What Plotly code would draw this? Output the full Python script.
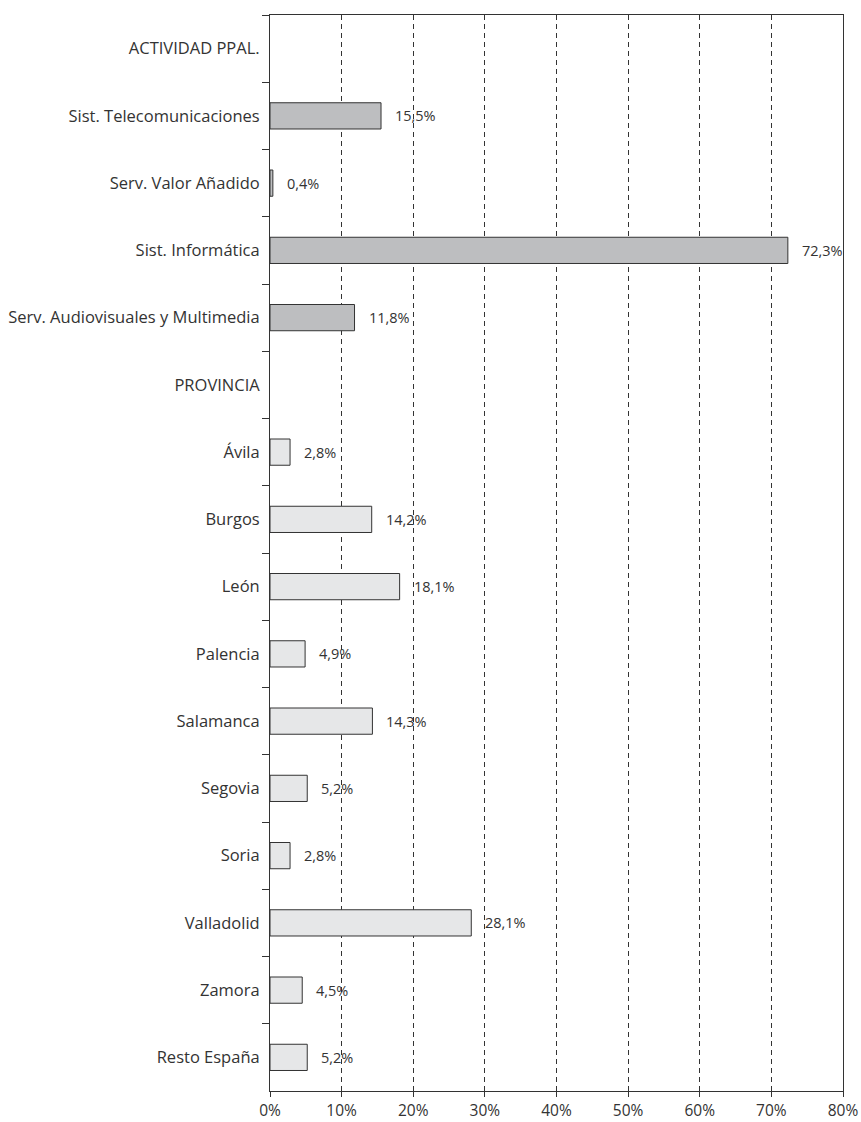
import plotly.graph_objects as go

categories = [
    "ACTIVIDAD PPAL.",
    "Sist. Telecomunicaciones",
    "Serv. Valor Añadido",
    "Sist. Informática",
    "Serv. Audiovisuales y Multimedia",
    "PROVINCIA",
    "Ávila",
    "Burgos",
    "León",
    "Palencia",
    "Salamanca",
    "Segovia",
    "Soria",
    "Valladolid",
    "Zamora",
    "Resto España",
]
values = [None, 15.5, 0.4, 72.3, 11.8, None, 2.8, 14.2, 18.1, 4.9, 14.3, 5.2, 2.8, 28.1, 4.5, 5.2]
groups = ["h", "a", "a", "a", "a", "h", "p", "p", "p", "p", "p", "p", "p", "p", "p", "p"]
group_colors = {"h": "#ffffff", "a": "#bdbec0", "p": "#e6e7e8"}
x_ticks = [0, 10, 20, 30, 40, 50, 60, 70, 80]

colors = [group_colors[g] for g in groups]

fig = go.Figure()
fig.add_trace(go.Bar(
    y=categories,
    x=values,
    orientation="h",
    width=0.39,
    marker=dict(color=colors, line=dict(color="#333333", width=1)),
    hoverinfo="skip",
))

for c, v in zip(categories, values):
    if v is None:
        continue
    fig.add_annotation(
        x=v, y=c, xref="x", yref="y",
        text=f"{v:.1f}%".replace(".", ","),
        showarrow=False, xanchor="left", xshift=12,
        font=dict(size=14.5, color="#333333", family="Open Sans"),
    )

fig.update_layout(
    width=861, height=1122,
    margin=dict(l=270, r=18, t=15, b=31, autoexpand=False),
    plot_bgcolor="white", paper_bgcolor="white",
    showlegend=False,
    font=dict(family="Open Sans", size=16, color="#333333"),
)
fig.update_xaxes(
    range=[0, 80],
    tickvals=x_ticks,
    ticktext=[f"{t}%" for t in x_ticks],
    ticks="outside", ticklen=5, tickcolor="#333333",
    showgrid=True, gridcolor="#333333", gridwidth=1, griddash="5px,4px",
    showline=True, linecolor="#333333", linewidth=1, mirror=True,
    zeroline=False, automargin=False,
    tickfont=dict(size=15.5),
)
fig.update_yaxes(
    categoryorder="array", categoryarray=categories,
    autorange="reversed",
    ticks="outside", tickson="boundaries", ticklen=7, tickcolor="#333333",
    showline=True, linecolor="#333333", linewidth=1, mirror=True,
    showgrid=False, zeroline=False, automargin=False,
    tickfont=dict(size=16.5),
    ticklabelstandoff=6,
)

fig.write_html(
    "out.html",
    config={"displayModeBar": False},
    post_script="document.body.style.margin='0px';",
)
